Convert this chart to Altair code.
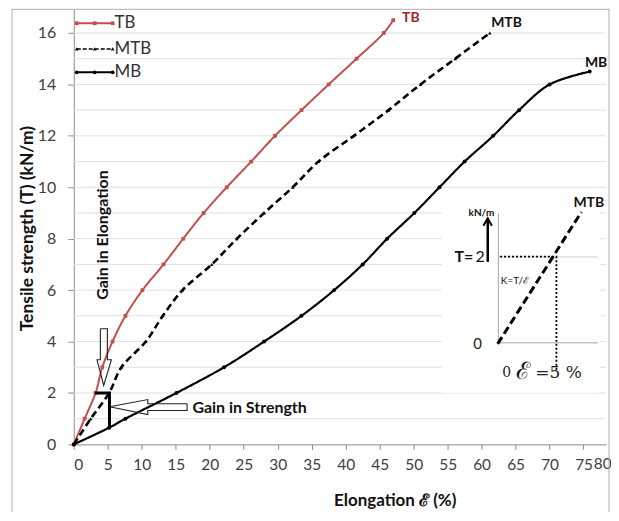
import altair as alt
import pandas as pd

# ---------------- data ----------------
tb_x = [0, 1.6, 3.2, 4.2, 5.7, 7.6, 10.1, 13.2, 16.1, 19.1, 22.5, 26.1, 29.6, 33.5, 37.5, 41.6, 45.6, 47.0]
tb_y = [0, 1, 2, 3, 4, 5, 6, 7, 8, 9, 10, 11, 12, 13, 14, 15, 16, 16.5]

mtb_x = [0, 2.5, 5.2, 7.0, 10.6, 13.1, 16.0, 20.3, 24.0, 28.0, 32.2, 36.0, 41.2, 46.3, 51.0, 56.1, 61.2]
mtb_y = [0, 1, 2, 3, 4, 5, 6, 7, 8, 9, 10, 11, 12, 13, 14, 15, 16]

mb_x = [0, 5.2, 7.6, 15.1, 22.1, 28.0, 33.5, 38.3, 42.5, 46.1, 50.1, 53.8, 57.5, 61.7, 65.5, 70.0, 75.9]
mb_y = [0, 0.65, 1, 2, 3, 4, 5, 6, 7, 8, 9, 10, 11, 12, 13, 14, 14.5]

x_ticks = list(range(0, 80, 5))
y_ticks = list(range(0, 17, 2))
y_grid = list(range(1, 17))
X_MAX = 78.3
Y_MAX = 16.94

series_names = ["TB", "MTB", "MB"]
legend_y = [16.38, 15.38, 14.47]
legend_mx = [0.44, 3.08, 5.72]

# annotation geometry (data units)
down_arrow_x = [3.91, 4.94, 4.94, 5.53, 4.40, 3.42, 3.91, 3.91]
down_arrow_y = [4.50, 4.50, 3.29, 3.29, 2.29, 3.29, 3.29, 4.50]
left_arrow_x = [16.67, 10.89, 10.89, 5.28, 10.89, 10.89, 16.67, 16.67]
left_arrow_y = [1.578, 1.578, 1.744, 1.461, 1.163, 1.318, 1.318, 1.578]
bracket_x = [3.1, 5.25, 5.25]
bracket_y = [2.0, 2.0, 0.65]

# inset
inset_box = [54.1, 77.3, 2.0, 9.7]
inset_axis_x = [62.46, 62.46, 77.1]
inset_axis_y = [8.99, 3.95, 3.95]
inset_grid_x = [62.46, 77.1]
inset_grid_y = [7.29, 7.29]
inset_mtb_x = [62.36, 74.68]
inset_mtb_y = [3.91, 9.04]
dot_x = [62.71, 71.0, 71.0]
dot_y = [7.30, 7.30, 2.84]
up_shaft_x = [60.9, 60.9]
up_shaft_y = [7.10, 8.72]
up_head_x = [60.26, 60.9, 61.5]
up_head_y = [8.50, 8.79, 8.50]

FONT = "Lato"
RED = "#c0504d"

def line_df(xs, ys):
    return pd.DataFrame({"x": xs, "y": ys, "i": list(range(len(xs)))})

x_axis = alt.Axis(values=x_ticks, grid=False, domainColor="#8c8c8c", tickColor="#8c8c8c",
                  tickSize=5, labelFont=FONT, labelFontSize=15.5, labelColor="#404040",
                  labelPadding=8, title="Elongation ℰ (%)", titleFont=FONT, titleFontSize=17,
                  titleFontWeight="bold", titleColor="#111", titleX=322, titleY=48,
                  titleBaseline="top", labelOverlap=False)
y_axis = alt.Axis(values=y_ticks, grid=False, domainColor="#8c8c8c", tickColor="#8c8c8c",
                  tickSize=6, labelFont=FONT, labelFontSize=16, labelColor="#404040",
                  labelPadding=12, title="Tensile strength (T)   (kN/m)", titleFont=FONT,
                  titleFontSize=17.5, titleFontWeight="bold", titleColor="#111",
                  titleX=-37, titleY=220)

XS = alt.Scale(domain=[0, X_MAX], nice=False, zero=False)
YS = alt.Scale(domain=[0, Y_MAX], nice=False, zero=False)
X = lambda f="x": alt.X(f"{f}:Q", scale=XS, axis=x_axis)
Y = lambda f="y": alt.Y(f"{f}:Q", scale=YS, axis=y_axis)

# gridlines
grid_df = pd.DataFrame({"y": y_grid, "x": [0] * len(y_grid), "x2": [X_MAX] * len(y_grid)})
grid = alt.Chart(grid_df).mark_rule(color="#e0e0e0", strokeWidth=1).encode(
    y=Y(), x=X(), x2="x2:Q")

def series_layer(xs, ys, color, dash, width, shape, size):
    df = line_df(xs, ys)
    ln = alt.Chart(df).mark_line(color=color, strokeWidth=width, strokeDash=dash,
                                 interpolate="catmull-rom").encode(x=X(), y=Y(), order="i:Q")
    pts = alt.Chart(df).mark_point(shape=shape, filled=True, color=color, size=size, opacity=1).encode(
        x=X(), y=Y())
    return ln + pts

tb = series_layer(tb_x, tb_y, RED, [1, 0], 2, "square", 14)
mtb = series_layer(mtb_x, mtb_y, "black", [7, 4], 2.6, "triangle-up", 12)
mb = series_layer(mb_x, mb_y, "black", [1, 0], 2.2, "circle", 16)

# legend
leg_layers = []
styles = [(RED, [1, 0], 2, "square"), ("black", [4, 2], 1.6, "triangle-up"), ("black", [1, 0], 2, "circle")]
for name, ly, (c, d, w, s) in zip(series_names, legend_y, styles):
    ldf = line_df([legend_mx[0], legend_mx[-1]], [ly, ly])
    leg_layers.append(alt.Chart(ldf).mark_line(color=c, strokeDash=d, strokeWidth=w).encode(
        x=X(), y=Y(), order="i:Q"))
    pdf = pd.DataFrame({"x": legend_mx, "y": [ly] * 3})
    leg_layers.append(alt.Chart(pdf).mark_point(shape=s, filled=True, color=c, size=14, opacity=1).encode(
        x=X(), y=Y()))
    tdf = pd.DataFrame({"x": [6.0], "y": [ly], "t": [name]})
    leg_layers.append(alt.Chart(tdf).mark_text(align="left", baseline="middle", font=FONT, fontSize=17,
                                               color="#333").encode(x=X(), y=Y(), text="t:N"))

def text_layer(xs, ys, texts, **kw):
    df = pd.DataFrame({"x": xs, "y": ys, "t": texts})
    return alt.Chart(df).mark_text(**kw).encode(x=X(), y=Y(), text="t:N")

def poly(xs, ys, **kw):
    return alt.Chart(line_df(xs, ys)).mark_line(**kw).encode(x=X(), y=Y(), order="i:Q")

end_labels = [
    text_layer([48.3], [16.6], ["TB"], align="left", baseline="middle", font=FONT, fontSize=14,
               fontWeight="bold", color="#a0282c"),
    text_layer([61.4, 75.2], [16.4, 14.85], ["MTB", "MB"], align="left", baseline="middle", font=FONT,
               fontSize=14, fontWeight="bold", color="#111"),
]

annot = [
    text_layer([4.25], [8.14], ["Gain in Elongation"], angle=270, align="center", baseline="middle",
               font=FONT, fontSize=16, fontWeight="bold", color="#111"),
    text_layer([17.45], [1.43], ["Gain in Strength"], align="left", baseline="middle",
               font=FONT, fontSize=16, fontWeight="bold", color="#111"),
    poly(down_arrow_x, down_arrow_y, color="#222", strokeWidth=1.1),
    poly(left_arrow_x, left_arrow_y, color="#222", strokeWidth=1.1),
    poly(bracket_x, bracket_y, color="black", strokeWidth=3),
]

# inset
box_df = pd.DataFrame({"x": [inset_box[0]], "x2": [inset_box[1]], "y": [inset_box[2]], "y2": [inset_box[3]]})
box = alt.Chart(box_df).mark_rect(color="white").encode(x=X(), x2="x2:Q", y=Y(), y2="y2:Q")
inset = [
    box,
    poly(inset_grid_x, inset_grid_y, color="#d0d0d0", strokeWidth=1),
    poly(inset_axis_x, inset_axis_y, color="#a6a6a6", strokeWidth=1),
    poly(dot_x, dot_y, color="black", strokeWidth=1.8, strokeDash=[2, 2]),
    poly(inset_mtb_x, inset_mtb_y, color="black", strokeWidth=3, strokeDash=[8, 4]),
    poly(up_shaft_x, up_shaft_y, color="black", strokeWidth=2.5),
    poly(up_head_x, up_head_y, color="black", strokeWidth=2),
    text_layer([59.97], [8.98], ["kN/m"], align="center", baseline="middle", font=FONT, fontSize=10,
               fontWeight="bold", color="#111"),
    text_layer([56.0], [7.29], ["T="], align="left", baseline="middle", font=FONT, fontSize=16,
               fontWeight="bold", color="#111"),
    text_layer([59.1], [7.29], ["2"], align="left", baseline="middle", font=FONT, fontSize=16, color="#111"),
    text_layer([59.4], [3.92], ["0"], align="center", baseline="middle", font=FONT, fontSize=15, color="#222"),
    text_layer([64.9], [6.36], ["K=T/ℰ"], align="center", baseline="middle", font=FONT, fontSize=10,
               color="#111"),
    text_layer([63.7], [2.78], ["0"], align="center", baseline="middle", font="DejaVu Serif", fontSize=14,
               color="#222"),
    text_layer([66.1], [2.8], ["ℰ"], align="center", baseline="middle", font="DejaVu Serif", fontSize=24,
               color="#111"),
    text_layer([67.9], [2.78], ["=5 %"], align="left", baseline="middle", font="DejaVu Serif", fontSize=17,
               color="#222"),
    text_layer([73.5], [9.38], ["MTB"], align="left", baseline="middle", font=FONT, fontSize=14,
               fontWeight="bold", color="#111"),
]

# the extra "80" label squeezed after 75 and the outer frame
extra80 = alt.Chart(pd.DataFrame({"x": [76.5], "t": ["80"]})).mark_text(
    align="left", baseline="top", font=FONT, fontSize=15.5, color="#404040").encode(
    x=X(), y=alt.value(450), text="t:N")
frame = alt.Chart(pd.DataFrame({"a": [0]})).mark_rule(color="#b0b0b0", strokeWidth=1)
frame_left = frame.encode(x=alt.value(-62), y=alt.value(0), y2=alt.value(505))
frame_right = frame.encode(x=alt.value(537), y=alt.value(0), y2=alt.value(505))
frame_top = frame.encode(x=alt.value(-62), x2=alt.value(537), y=alt.value(0.5))

chart = alt.layer(
    grid, *inset, tb, mtb, mb, *leg_layers, *end_labels, *annot, extra80,
    frame_left, frame_right, frame_top
).properties(
    width=534, height=437,
    autosize=alt.AutoSizeParams(type="none"),
    padding={"left": 66, "top": 0, "right": 5, "bottom": 68},
).configure_view(stroke=None)

chart.save("out.html", embed_options={"renderer": "svg", "actions": False})
